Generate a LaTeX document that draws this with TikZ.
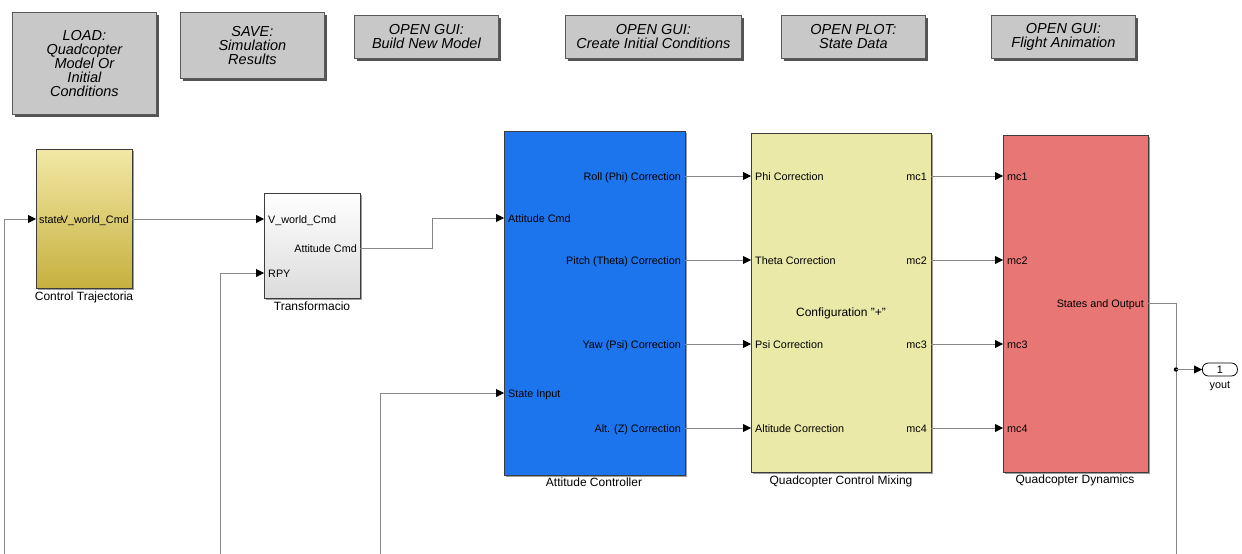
\documentclass[tikz,border=0pt]{standalone}
\usepackage{fontspec}
\setmainfont{Liberation Sans}
\setsansfont{Liberation Sans}
\usetikzlibrary{arrows.meta,shadows,positioning}

\definecolor{btnfill}{RGB}{200,200,200}
\definecolor{btnline}{RGB}{90,90,90}
\definecolor{wirecol}{RGB}{135,135,135}
\definecolor{ctrtop}{RGB}{242,232,165}
\definecolor{ctrbot}{RGB}{198,176,62}
\definecolor{attblue}{RGB}{28,117,236}
\definecolor{mixfill}{RGB}{234,233,168}
\definecolor{dynred}{RGB}{232,118,116}
\definecolor{blkline}{RGB}{60,60,60}

\tikzset{
  btn/.style={draw=btnline, fill=btnfill, line width=0.8pt, anchor=north west,
    align=center, font=\fontsize{14.5}{14}\selectfont\itshape,
    drop shadow={shadow xshift=2.5pt, shadow yshift=-2.5pt, fill=black!75, opacity=0.9}},
  blk/.style={draw=blkline, line width=0.8pt, anchor=north west, inner sep=0pt,
    drop shadow={shadow xshift=2pt, shadow yshift=-2pt, fill=black!55, opacity=0.7}},
  plabel/.style={font=\fontsize{10.8}{12}\selectfont, inner sep=0pt,
    text height=9pt, text depth=1pt},
  blabel/.style={font=\fontsize{12}{13}\selectfont, inner sep=0pt,
    text height=8.6pt, text depth=2.5pt},
  wire/.style={draw=wirecol, line width=0.8pt},
  sig/.style={wire, -{Triangle[length=8pt, width=8pt, color=black]}},
}

\begin{document}
\begin{tikzpicture}[x=1pt, y=-1pt]
\useasboundingbox (0,0) rectangle (1242,554);

% ---- callback buttons along the top ----
\node[btn, minimum width=144pt, minimum height=102pt] (load) at (12,12)
  {LOAD:\\Quadcopter\\Model Or\\Initial\\Conditions};
\node[btn, minimum width=144pt, minimum height=66pt] (save) at (180,12)
  {SAVE:\\Simulation\\Results};
\node[btn, minimum width=144pt, minimum height=43pt] (guimodel) at (354,15)
  {OPEN GUI:\\Build New Model};
\node[btn, minimum width=176pt, minimum height=43pt] (guiinit) at (565,15)
  {OPEN GUI:\\Create Initial Conditions};
\node[btn, minimum width=144pt, minimum height=43pt] (plotstate) at (781,15)
  {OPEN PLOT:\\State Data};
\node[btn, minimum width=144pt, minimum height=43pt] (guianim) at (991,15)
  {OPEN GUI:\\Flight Animation};

% ---- subsystem blocks ----
\node[blk, top color=ctrtop, bottom color=ctrbot, minimum width=96pt, minimum height=139pt] (ctr) at (36,149) {};
\node[blk, top color=white, bottom color=black!14, minimum width=96pt, minimum height=105pt] (tr) at (264,193) {};
\node[blk, fill=attblue, minimum width=181pt, minimum height=344pt] (att) at (504,131) {};
\node[blk, fill=mixfill, minimum width=180pt, minimum height=339pt] (mix) at (751,133) {};
\node[blk, fill=dynred, minimum width=145pt, minimum height=337pt] (dyn) at (1003,135) {};

% block names
\node[blabel] (ctrname) at (84,297) {Control Trajectoria};
\node[blabel] (trname) at (312,307) {Transformacio};
\node[blabel] (attname) at (594,483) {Attitude Controller};
\node[blabel] (mixname) at (841,481) {Quadcopter Control Mixing};
\node[blabel] (dynname) at (1075,480) {Quadcopter Dynamics};
\node[blabel] (mixcfg) at (841,313) {Configuration \char34+\char34};

% ---- port coordinates ----
\coordinate (ctr-in) at (36,219);
\coordinate (ctr-out) at (132,219);
\coordinate (tr-in1) at (264,219);
\coordinate (tr-in2) at (264,273);
\coordinate (tr-out) at (360,248);
\coordinate (att-in1) at (504,218);
\coordinate (att-in2) at (504,393);
\foreach \i/\y in {1/176,2/260,3/344,4/428}{
  \coordinate (att-o\i) at (685,\y);
  \coordinate (mix-i\i) at (751,\y);
  \coordinate (mix-o\i) at (931,\y);
  \coordinate (dyn-i\i) at (1003,\y);
}
\coordinate (dyn-out) at (1148,303);

% ---- port labels ----
\node[plabel, anchor=west] (lstate) at (39,219) {state};
\node[plabel, anchor=east] (lvw) at (129,219) {V\_world\_Cmd};
\node[plabel, anchor=west] (ltrvw) at (268,219) {V\_world\_Cmd};
\node[plabel, anchor=west] (ltrrpy) at (268,273) {RPY};
\node[plabel, anchor=east] (ltrout) at (357,248) {Attitude Cmd};
\node[plabel, anchor=west] (lattin1) at (508,218) {Attitude Cmd};
\node[plabel, anchor=west] (lattin2) at (508,393) {State Input};
\node[plabel, anchor=east] (latto1) at (681,176) {Roll (Phi) Correction};
\node[plabel, anchor=east] (latto2) at (681,260) {Pitch (Theta) Correction};
\node[plabel, anchor=east] (latto3) at (681,344) {Yaw (Psi) Correction};
\node[plabel, anchor=east] (latto4) at (681,428) {Alt. (Z) Correction};
\node[plabel, anchor=west] (lmixi1) at (755,176) {Phi Correction};
\node[plabel, anchor=west] (lmixi2) at (755,260) {Theta Correction};
\node[plabel, anchor=west] (lmixi3) at (755,344) {Psi Correction};
\node[plabel, anchor=west] (lmixi4) at (755,428) {Altitude Correction};
\foreach \i/\y in {1/176,2/260,3/344,4/428}{
  \node[plabel, anchor=east] (lmixo\i) at (927,\y) {mc\i};
  \node[plabel, anchor=west] (ldyni\i) at (1007,\y) {mc\i};
}
\node[plabel, anchor=east] (ldynout) at (1144,303) {States and Output};

% ---- output port ----
\node[draw=black, fill=white, line width=0.8pt, rounded corners=6pt, minimum width=35pt,
  minimum height=13pt, inner sep=0pt, font=\fontsize{10.8}{12}\selectfont, anchor=west] (yout) at (1202,369.5) {1};
\node[plabel, below=3pt of yout] (youtname) {yout};

% ---- signal lines ----
\coordinate (fbA) at (4,554);
\coordinate (fbB) at (220,554);
\coordinate (fbC) at (380,554);
\coordinate (fbD) at (1176,554);
\coordinate (tap) at (1176,369.5);

\draw[sig] (fbA) |- (ctr-in);
\draw[sig] (ctr-out) -- (tr-in1);
\draw[sig] (fbB) |- (tr-in2);
\draw[sig] (tr-out) -- (432,248) |- (att-in1);
\draw[sig] (fbC) |- (att-in2);
\foreach \i in {1,2,3,4}{
  \draw[sig] (att-o\i) -- (mix-i\i);
  \draw[sig] (mix-o\i) -- (dyn-i\i);
}
\draw[wire] (dyn-out) -| (fbD);
\fill (tap) circle (2.2pt);
\draw[sig] (tap) -- (yout.west);
\end{tikzpicture}
\end{document}
